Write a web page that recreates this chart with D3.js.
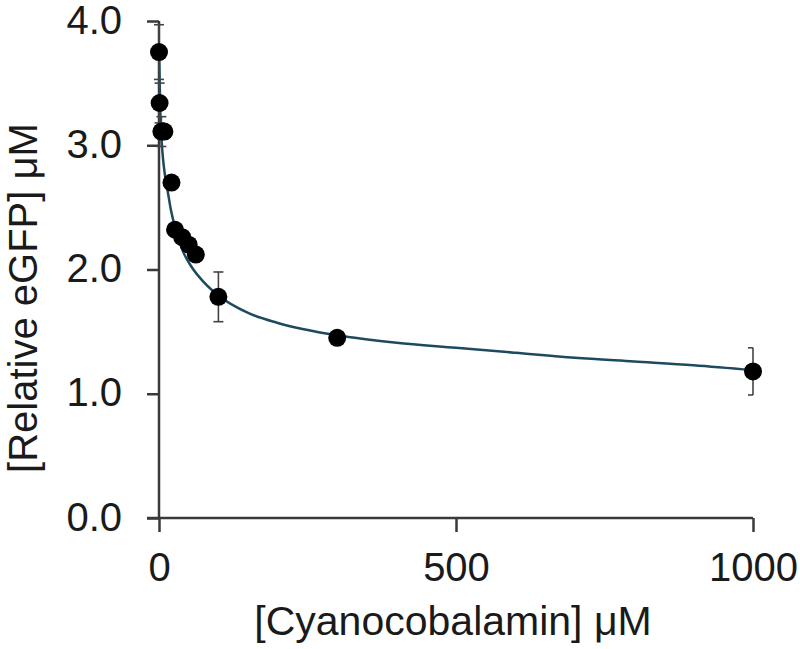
<!DOCTYPE html>
<html>
<head>
<meta charset="utf-8">
<script src="https://cdn.jsdelivr.net/npm/d3@7"></script>
<style>
  body { margin: 0; background: #fff; }
  text { font-family: "Liberation Sans", Arial, sans-serif; fill: #1a1a1a; }
</style>
</head>
<body>
<svg id="chart"></svg>
<script>
// measured points: concentration, mean, error
const conc = [0, 1, 4, 9, 21, 27, 39, 50, 62, 100, 300, 1000];
const means = [3.75, 3.34, 3.11, 3.11, 2.70, 2.32, 2.26, 2.20, 2.12, 1.78, 1.45, 1.18];
const errs = [0.22, 0.16, 0.12, 0.04, 0.04, 0.04, 0.03, 0.03, 0.04, 0.20, 0.04, 0.19];

// fitted curve
const fitX = [0, 2, 4, 7, 10, 15, 20, 27, 40, 55, 75, 100, 150, 200, 300, 400, 500, 600, 700, 800, 900, 1000];
const fitY = [3.80, 3.30, 3.07, 2.88, 2.76, 2.62, 2.48, 2.34, 2.15, 2.02, 1.90, 1.79, 1.65, 1.57, 1.47, 1.41, 1.37, 1.33, 1.29, 1.26, 1.23, 1.19];

const xTicks = [0, 500, 1000];
const yTicks = [0, 1, 2, 3, 4];

const width = 800, height = 649;
const margin = { top: 21, right: 47, bottom: 131, left: 159 };

const svg = d3.select('#chart')
    .attr('width', width)
    .attr('height', height);

const x = d3.scaleLinear().domain([0, 1000]).range([margin.left, width - margin.right]);
const y = d3.scaleLinear().domain([0, 4]).range([height - margin.bottom, margin.top]);

const axisColor = '#3a3a3a';

// y axis
const yAxis = svg.append('g')
    .attr('transform', `translate(${margin.left},0)`)
    .call(d3.axisLeft(y).tickValues(yTicks).tickSize(12).tickPadding(25).tickFormat(d3.format('.1f')));

// x axis
const xAxis = svg.append('g')
    .attr('transform', `translate(0,${y(0)})`)
    .call(d3.axisBottom(x).tickValues(xTicks).tickSize(14).tickPadding(21).tickFormat(d3.format('d')));

[xAxis, yAxis].forEach(g => {
    g.select('.domain').attr('stroke', axisColor).attr('stroke-width', 2.5);
    g.selectAll('.tick line').attr('stroke', axisColor).attr('stroke-width', 2.5);
    g.selectAll('.tick text').style('font-size', '40px').attr('fill', '#1a1a1a');
});
// plain domain lines, no end caps
yAxis.select('.domain').attr('d', `M0,${y(4)}V${y(0)}`);
xAxis.select('.domain').attr('d', `M${x(0) - 12},0H${x(1000)}`);
yAxis.selectAll('.tick text').attr('dy', '0.3em');

// fit curve
const fit = fitX.map((d, i) => ({ x: d, y: fitY[i] }));
svg.append('path')
    .datum(fit)
    .attr('fill', 'none')
    .attr('stroke', '#1e4a60')
    .attr('stroke-width', 2.5)
    .attr('d', d3.line().x(d => x(d.x)).y(d => y(d.y)).curve(d3.curveMonotoneX));

// points
const pts = conc.map((d, i) => ({ x: d, y: means[i], e: errs[i] }));

const eb = svg.append('g').attr('stroke', '#444').attr('stroke-width', 1.6);
pts.forEach(d => {
    eb.append('line').attr('x1', x(d.x)).attr('x2', x(d.x)).attr('y1', y(d.y - d.e)).attr('y2', y(d.y + d.e));
    [d.y - d.e, d.y + d.e].forEach(v => {
        eb.append('line')
            .attr('x1', x(d.x) - 5)
            .attr('x2', Math.min(x(d.x) + 5, x(1000)))
            .attr('y1', y(v)).attr('y2', y(v));
    });
});

svg.append('g').selectAll('circle')
    .data(pts)
    .enter()
    .append('circle')
    .attr('cx', d => x(d.x))
    .attr('cy', d => y(d.y))
    .attr('r', 9)
    .attr('fill', '#000');

// axis titles
svg.append('text')
    .attr('x', 453)
    .attr('y', 635)
    .attr('text-anchor', 'middle')
    .style('font-size', '41px')
    .text('[Cyanocobalamin] μM');

svg.append('text')
    .attr('transform', 'translate(37,298) rotate(-90)')
    .attr('text-anchor', 'middle')
    .style('font-size', '40px')
    .text('[Relative eGFP] μM');
</script>
</body>
</html>
